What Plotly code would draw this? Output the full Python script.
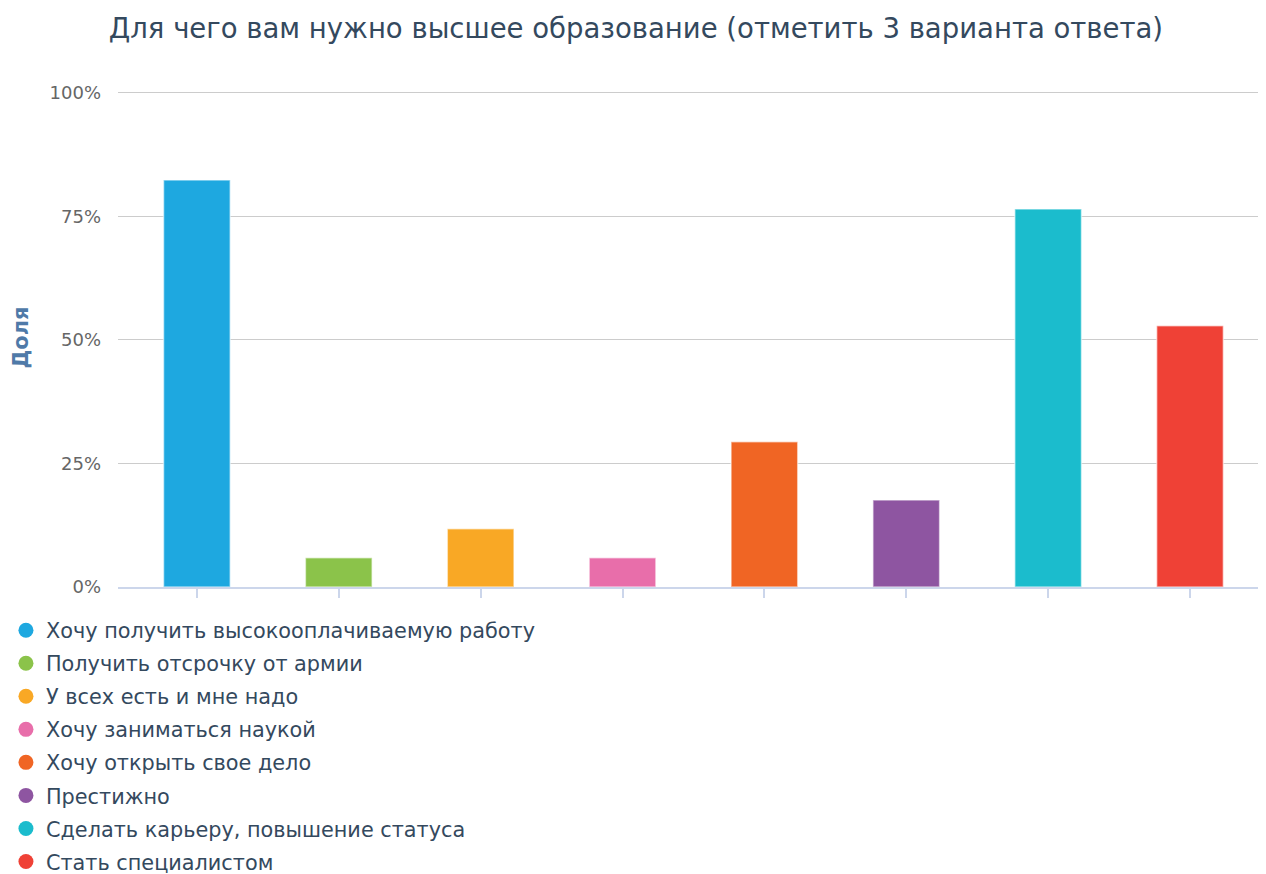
import plotly.graph_objects as go

title = "Для чего вам нужно высшее образование (отметить 3 варианта ответа)"
y_title = "Доля"
categories = [
    "Хочу получить высокооплачиваемую работу",
    "Получить отсрочку от армии",
    "У всех есть и мне надо",
    "Хочу заниматься наукой",
    "Хочу открыть свое дело",
    "Престижно",
    "Сделать карьеру, повышение статуса",
    "Стать специалистом",
]
values = [82.4, 5.9, 11.8, 5.9, 29.4, 17.6, 76.5, 52.9]
colors = ["#1ea8e0", "#8bc34a", "#f9a825", "#e86eaa", "#f06524", "#8e55a1", "#1bbccd", "#ef4136"]
y_ticks = [0, 25, 50, 75, 100]
y_tick_labels = ["0%", "25%", "50%", "75%", "100%"]

fig = go.Figure()
for i, (cat, val, col) in enumerate(zip(categories, values, colors)):
    fig.add_trace(go.Bar(
        x=[i], y=[val], name=cat, width=0.47,
        marker=dict(color=col, line=dict(color="rgba(255,255,255,0.55)", width=1.5)),
        showlegend=False, legendgroup=str(i),
    ))
    fig.add_trace(go.Scatter(
        x=[None], y=[None], name=cat, mode="markers",
        marker=dict(color=col, size=15, symbol="circle"),
        showlegend=True, legendgroup=str(i),
    ))

fig.update_layout(
    width=1266, height=874,
    paper_bgcolor="white", plot_bgcolor="white",
    font=dict(family="DejaVu Sans", color="#34495e"),
    title=dict(text=title, x=0.496, xanchor="center", y=0.977, yanchor="middle",
               font=dict(size=27.5, color="#34495e")),
    margin=dict(l=110, r=0, t=80, b=295, autoexpand=False),
    barmode="overlay",
    showlegend=True,
    legend=dict(orientation="v", x=0.0047, xanchor="left", y=0.311, yanchor="top",
                xref="container", yref="container", font=dict(size=20.8, color="#34495e"),
                tracegroupgap=3.0, itemsizing="trace", bgcolor="rgba(0,0,0,0)",
                indentation=-8),
    xaxis=dict(range=[-0.556, 7.592], tickvals=list(range(8)), ticktext=[""] * 8,
               showgrid=False, showline=True, linecolor="#ccd6eb", linewidth=1.5,
               ticks="outside", ticklen=9, tickwidth=1.5, tickcolor="#ccd6eb",
               zeroline=False, fixedrange=True),
    yaxis=dict(range=[0, 101], tickvals=y_ticks, ticktext=y_tick_labels,
               showgrid=True, gridcolor="#cccccc", gridwidth=1.2,
               zeroline=False, ticks="", ticklabelstandoff=16,
               tickfont=dict(size=18, color="#666666")),
    annotations=[dict(text="<b>" + y_title + "</b>", textangle=-90,
                      xref="paper", yref="paper", x=(12 - 110) / 1156, y=0.5,
                      xanchor="center", yanchor="middle", showarrow=False,
                      font=dict(size=21, color="#4f7aa8"))],
)
fig.write_html("out.html")
